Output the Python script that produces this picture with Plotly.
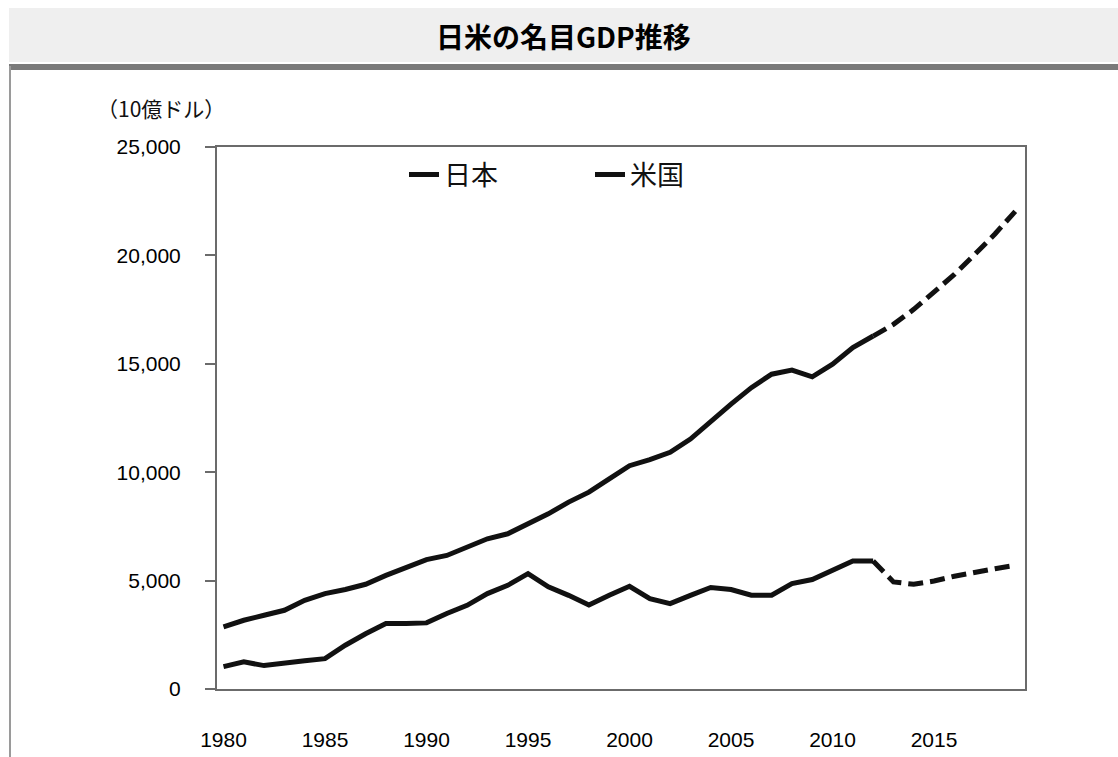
import plotly.graph_objects as go

# Nominal GDP, billions of US dollars (values from 2013 onward are projections)
years = list(range(1980, 2020))
japan_gdp = [1030, 1250, 1080, 1210, 1300, 1400, 2020, 2550, 3020, 3020,
             3050, 3480, 3860, 4400, 4780, 5320, 4710, 4320, 3870, 4320,
             4740, 4170, 3940, 4320, 4680, 4590, 4330, 4330, 4860, 5050,
             5470, 5900, 5900, 4940, 4830, 4980, 5200, 5400, 5550, 5700]
us_gdp = [2870, 3170, 3400, 3630, 4090, 4400, 4590, 4830, 5240, 5630,
          5970, 6160, 6550, 6930, 7160, 7620, 8080, 8620, 9080, 9690,
          10300, 10580, 10920, 11530, 12370, 13140, 13900, 14520, 14710, 14400,
          14980, 15750, 16280, 16820, 17510, 18280, 19120, 20040, 20990, 22030]
last_actual_year = 2012
x_ticks = [1980, 1985, 1990, 1995, 2000, 2005, 2010, 2015]
y_ticks = [0, 5000, 10000, 15000, 20000, 25000]

title_text = "日米の名目GDP推移"
unit_text = "（10億ドル）"
name_japan = "日本"
name_us = "米国"

W, H = 1118, 757
LINE_COLOR = "#111111"
LINE_W = 5
DASH = "15px,7px"
NUM_FONT = "Liberation Sans, Arial, sans-serif"
JP_FONT = "Noto Sans CJK JP, sans-serif"


def px_x(px):
    return px / W


def px_y(py):
    return 1 - py / H


def split(values):
    k = years.index(last_actual_year)
    return (years[:k + 1], values[:k + 1]), (years[k:], values[k:])


fig = go.Figure()
for name, vals, leg in [(name_japan, japan_gdp, "legend"), (name_us, us_gdp, "legend2")]:
    (xa, ya), (xf, yf) = split(vals)
    fig.add_trace(go.Scatter(x=xa, y=ya, mode="lines", name=name, legend=leg,
                             line=dict(color=LINE_COLOR, width=LINE_W),
                             hoverinfo="x+y"))
    fig.add_trace(go.Scatter(x=xf, y=yf, mode="lines", name=name, showlegend=False,
                             line=dict(color=LINE_COLOR, width=LINE_W, dash=DASH),
                             hoverinfo="x+y"))

legend_common = dict(orientation="h", xanchor="left", yanchor="middle",
                     bgcolor="rgba(0,0,0,0)", borderwidth=0,
                     font=dict(family=JP_FONT, size=27, color="#111111"))

fig.update_layout(
    width=W, height=H, autosize=False,
    margin=dict(l=0, r=0, t=0, b=0, pad=0, autoexpand=False),
    paper_bgcolor="white", plot_bgcolor="white",
    legend=dict(x=px_x(404), y=px_y(175), **legend_common),
    legend2=dict(x=px_x(590), y=px_y(175), **legend_common),
    xaxis=dict(
        domain=[px_x(217), px_x(1025)],
        range=[1979.68, 2019.48],
        tickvals=x_ticks, ticktext=[str(v) for v in x_ticks],
        ticks="", showgrid=False, zeroline=False, automargin=False,
        showline=True, linecolor="#6b6b6b", linewidth=2, mirror=True,
        tickfont=dict(family=NUM_FONT, size=21, color="#000000"),
        ticklabelstandoff=31,
    ),
    yaxis=dict(
        domain=[px_y(689), px_y(147)],
        range=[0, 25000],
        tickvals=y_ticks, tickformat=",",
        ticks="outside", ticklen=10, tickwidth=2, tickcolor="#6b6b6b",
        showgrid=False, zeroline=False, automargin=False,
        showline=True, linecolor="#6b6b6b", linewidth=2, mirror=True,
        tickfont=dict(family=NUM_FONT, size=21, color="#000000"),
        ticklabelstandoff=20,
    ),
    shapes=[
        # header band
        dict(type="rect", xref="paper", yref="paper", layer="below",
             x0=px_x(9), x1=1, y0=px_y(62), y1=px_y(8),
             fillcolor="#efefef", line=dict(width=0)),
        # header rule
        dict(type="rect", xref="paper", yref="paper", layer="below",
             x0=px_x(9), x1=1, y0=px_y(70), y1=px_y(64),
             fillcolor="#7a7a7a", line=dict(width=0)),
        # panel left edge
        dict(type="line", xref="paper", yref="paper", layer="below",
             x0=px_x(10), x1=px_x(10), y0=0, y1=px_y(66),
             line=dict(color="#9a9a9a", width=2)),
    ],
    annotations=[
        dict(text=title_text, xref="paper", yref="paper", x=px_x(563), y=px_y(36),
             xanchor="center", yanchor="middle", showarrow=False,
             font=dict(family=JP_FONT, size=28, color="#000000", weight=700)),
        dict(text=unit_text, xref="paper", yref="paper", x=px_x(161), y=px_y(108),
             xanchor="center", yanchor="middle", showarrow=False,
             font=dict(family=JP_FONT, size=21, color="#111111")),
    ],
)

fig.write_html("out.html")
